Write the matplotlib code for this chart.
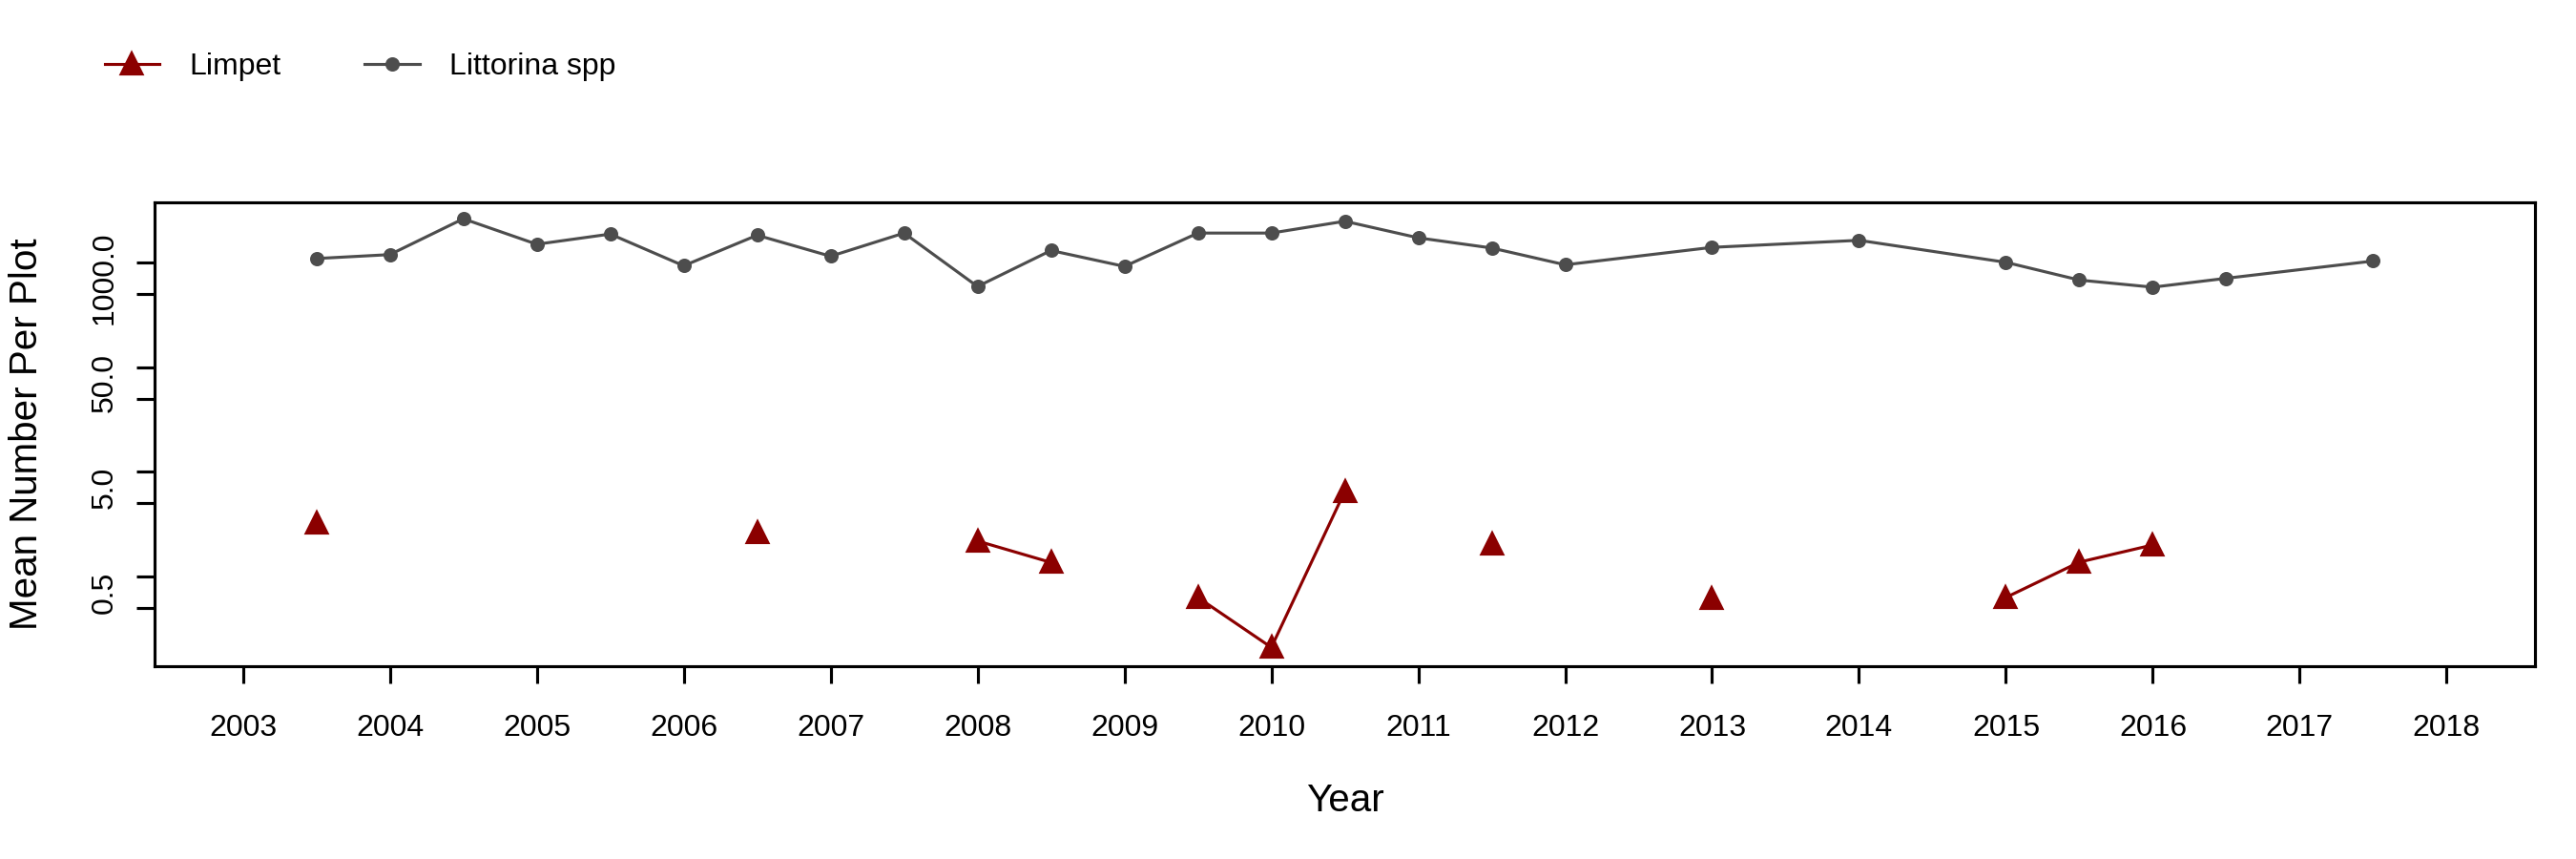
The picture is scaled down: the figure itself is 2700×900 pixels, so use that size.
import numpy as np
import matplotlib
matplotlib.use("Agg")
from matplotlib import pyplot as plt

plt.rcParams['font.family'] = ['Liberation Sans', 'DejaVu Sans']

# survey dates (half years = spring / fall)
years = [2003.5, 2004, 2004.5, 2005, 2005.5, 2006, 2006.5, 2007, 2007.5, 2008,
         2008.5, 2009, 2009.5, 2010, 2010.5, 2011, 2011.5, 2012, 2013, 2014,
         2015, 2015.5, 2016, 2016.5, 2017.5]

littorina = [1087, 1185, 2606, 1488, 1862, 927, 1816, 1143, 1903, 588,
             1297, 914, 1903, 1903, 2469, 1714, 1370, 947, 1390, 1623,
             1000, 677, 579, 704, 1029]

nan = np.nan
limpet = [3.25, nan, nan, nan, nan, nan, 2.62, nan, nan, 2.18,
          1.36, nan, 0.63, 0.21, 6.5, nan, 2.03, nan, 0.62, nan,
          0.63, 1.37, 2.0, nan, nan]

year_ticks = list(range(2003, 2019))
y_ticks = [0.5, 1, 5, 10, 50, 100, 500, 1000]
y_labels = ['0.5', '5.0', '50.0', '1000.0']

fs = 7.7

fig = plt.figure(figsize=(9, 3), dpi=300)
ax = fig.add_axes([0.0601, 0.2241, 0.9239, 0.5407])

ax.plot(years, limpet, color='#8B0000', lw=0.75, marker='^', ms=4.6,
        label='Limpet')
ax.plot(years, littorina, color='#4D4D4D', lw=0.75, marker='o', ms=2.6,
        label='Littorina spp')

ax.set_yscale('log')
ax.set_ylim(0.138, 3765)
ax.set_xlim(2002.4, 2018.6)

ax.set_xticks(year_ticks)
ax.set_xticklabels([str(y) for y in year_ticks], fontsize=fs)
ax.set_yticks(y_ticks)
ax.set_yticklabels([])
# labels sit between each pair of ticks
mids = [np.sqrt(y_ticks[i] * y_ticks[i + 1]) for i in range(0, 8, 2)]
ax.set_yticks(mids, minor=True)
ax.set_yticklabels(y_labels, minor=True, fontsize=fs, rotation=90, va='center')
ax.tick_params(axis='y', which='minor', length=0, pad=9)
ax.tick_params(axis='y', which='major', length=4.6, width=0.75)
ax.tick_params(axis='x', length=4.4, width=0.75, pad=7.5)

for s in ax.spines.values():
    s.set_linewidth(0.75)

ax.set_xlabel('Year', fontsize=9.7, labelpad=10)
ax.set_ylabel('Mean Number Per Plot', fontsize=9.7, labelpad=11.5)

fig.legend(loc='upper left', bbox_to_anchor=(0.0407, 0.939), ncol=2,
           frameon=False, fontsize=fs, borderpad=0, borderaxespad=0,
           handlelength=1.78, columnspacing=2.75, handletextpad=0.97)

fig.savefig('out.png', dpi=300)
